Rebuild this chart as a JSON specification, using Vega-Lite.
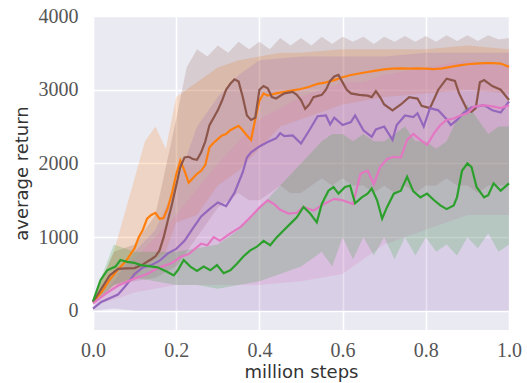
{
  "$schema": "https://vega.github.io/schema/vega-lite/v6.json",
  "autosize": "none",
  "width": 416,
  "height": 314,
  "padding": {"left": 93, "top": 16, "right": 18, "bottom": 53},
  "background": "white",
  "view": {"fill": "#eaeaf2", "stroke": null},
  "config": {
    "axis": {
      "domain": false,
      "ticks": false,
      "grid": true,
      "gridColor": "white",
      "gridWidth": 1.6,
      "labelFont": "Liberation Serif",
      "labelFontSize": 20,
      "labelColor": "#555555",
      "titleFont": "DejaVu Sans",
      "titleFontSize": 18,
      "titleFontWeight": "normal",
      "titleColor": "#333333"
    }
  },
  "datasets": {
    "lines": [
      {"x":0,"s":"orange","v":120},{"x":0.02,"s":"orange","v":250},{"x":0.04,"s":"orange","v":420},{"x":0.06,"s":"orange","v":560},{"x":0.08,"s":"orange","v":680},{"x":0.1,"s":"orange","v":850},{"x":0.11,"s":"orange","v":1000},{"x":0.12,"s":"orange","v":1100},{"x":0.13,"s":"orange","v":1250},{"x":0.14,"s":"orange","v":1300},{"x":0.15,"s":"orange","v":1330},{"x":0.16,"s":"orange","v":1250},{"x":0.17,"s":"orange","v":1260},{"x":0.18,"s":"orange","v":1400},{"x":0.19,"s":"orange","v":1600},{"x":0.2,"s":"orange","v":1850},{"x":0.21,"s":"orange","v":2040},{"x":0.22,"s":"orange","v":1900},{"x":0.23,"s":"orange","v":1740},{"x":0.24,"s":"orange","v":1800},{"x":0.25,"s":"orange","v":1860},{"x":0.26,"s":"orange","v":1900},{"x":0.27,"s":"orange","v":1980},{"x":0.28,"s":"orange","v":2220},{"x":0.29,"s":"orange","v":2280},{"x":0.3,"s":"orange","v":2330},{"x":0.31,"s":"orange","v":2380},{"x":0.32,"s":"orange","v":2400},{"x":0.33,"s":"orange","v":2450},{"x":0.34,"s":"orange","v":2480},{"x":0.35,"s":"orange","v":2510},{"x":0.36,"s":"orange","v":2450},{"x":0.37,"s":"orange","v":2380},{"x":0.38,"s":"orange","v":2320},{"x":0.39,"s":"orange","v":2600},{"x":0.4,"s":"orange","v":2850},{"x":0.41,"s":"orange","v":2950},{"x":0.42,"s":"orange","v":2920},{"x":0.44,"s":"orange","v":2950},{"x":0.46,"s":"orange","v":2970},{"x":0.48,"s":"orange","v":2990},{"x":0.5,"s":"orange","v":3010},{"x":0.52,"s":"orange","v":3040},{"x":0.54,"s":"orange","v":3080},{"x":0.56,"s":"orange","v":3100},{"x":0.58,"s":"orange","v":3130},{"x":0.6,"s":"orange","v":3170},{"x":0.62,"s":"orange","v":3200},{"x":0.64,"s":"orange","v":3220},{"x":0.66,"s":"orange","v":3240},{"x":0.68,"s":"orange","v":3260},{"x":0.7,"s":"orange","v":3275},{"x":0.72,"s":"orange","v":3285},{"x":0.74,"s":"orange","v":3290},{"x":0.76,"s":"orange","v":3285},{"x":0.78,"s":"orange","v":3290},{"x":0.8,"s":"orange","v":3285},{"x":0.82,"s":"orange","v":3280},{"x":0.84,"s":"orange","v":3290},{"x":0.86,"s":"orange","v":3310},{"x":0.88,"s":"orange","v":3330},{"x":0.9,"s":"orange","v":3345},{"x":0.92,"s":"orange","v":3355},{"x":0.94,"s":"orange","v":3360},{"x":0.96,"s":"orange","v":3360},{"x":0.98,"s":"orange","v":3355},{"x":1.0,"s":"orange","v":3310},
      {"x":0,"s":"brown","v":120},{"x":0.02,"s":"brown","v":300},{"x":0.04,"s":"brown","v":480},{"x":0.06,"s":"brown","v":570},{"x":0.08,"s":"brown","v":575},{"x":0.1,"s":"brown","v":580},{"x":0.12,"s":"brown","v":630},{"x":0.14,"s":"brown","v":700},{"x":0.15,"s":"brown","v":740},{"x":0.16,"s":"brown","v":820},{"x":0.17,"s":"brown","v":1000},{"x":0.18,"s":"brown","v":1230},{"x":0.19,"s":"brown","v":1450},{"x":0.2,"s":"brown","v":1700},{"x":0.21,"s":"brown","v":1950},{"x":0.22,"s":"brown","v":2080},{"x":0.23,"s":"brown","v":2090},{"x":0.24,"s":"brown","v":2060},{"x":0.25,"s":"brown","v":2050},{"x":0.26,"s":"brown","v":2150},{"x":0.27,"s":"brown","v":2300},{"x":0.28,"s":"brown","v":2520},{"x":0.29,"s":"brown","v":2620},{"x":0.3,"s":"brown","v":2720},{"x":0.31,"s":"brown","v":2850},{"x":0.32,"s":"brown","v":3000},{"x":0.33,"s":"brown","v":3080},{"x":0.34,"s":"brown","v":3140},{"x":0.35,"s":"brown","v":3110},{"x":0.36,"s":"brown","v":2900},{"x":0.37,"s":"brown","v":2650},{"x":0.38,"s":"brown","v":2590},{"x":0.39,"s":"brown","v":2620},{"x":0.4,"s":"brown","v":3000},{"x":0.41,"s":"brown","v":3050},{"x":0.42,"s":"brown","v":3020},{"x":0.43,"s":"brown","v":2900},{"x":0.44,"s":"brown","v":2880},{"x":0.46,"s":"brown","v":2950},{"x":0.48,"s":"brown","v":2970},{"x":0.49,"s":"brown","v":2930},{"x":0.5,"s":"brown","v":2860},{"x":0.51,"s":"brown","v":2740},{"x":0.52,"s":"brown","v":2800},{"x":0.53,"s":"brown","v":2900},{"x":0.55,"s":"brown","v":2930},{"x":0.56,"s":"brown","v":3000},{"x":0.57,"s":"brown","v":3120},{"x":0.58,"s":"brown","v":3180},{"x":0.59,"s":"brown","v":3200},{"x":0.6,"s":"brown","v":3100},{"x":0.61,"s":"brown","v":3000},{"x":0.62,"s":"brown","v":2950},{"x":0.64,"s":"brown","v":2930},{"x":0.66,"s":"brown","v":2920},{"x":0.67,"s":"brown","v":2900},{"x":0.68,"s":"brown","v":2980},{"x":0.69,"s":"brown","v":2900},{"x":0.7,"s":"brown","v":2800},{"x":0.72,"s":"brown","v":2720},{"x":0.74,"s":"brown","v":2800},{"x":0.76,"s":"brown","v":2900},{"x":0.78,"s":"brown","v":2880},{"x":0.79,"s":"brown","v":2780},{"x":0.81,"s":"brown","v":2750},{"x":0.83,"s":"brown","v":3000},{"x":0.85,"s":"brown","v":3150},{"x":0.87,"s":"brown","v":3120},{"x":0.88,"s":"brown","v":2950},{"x":0.9,"s":"brown","v":2720},{"x":0.91,"s":"brown","v":2700},{"x":0.92,"s":"brown","v":2750},{"x":0.93,"s":"brown","v":3100},{"x":0.94,"s":"brown","v":3130},{"x":0.96,"s":"brown","v":3050},{"x":0.98,"s":"brown","v":3000},{"x":1.0,"s":"brown","v":2860},
      {"x":0,"s":"purple","v":30},{"x":0.02,"s":"purple","v":120},{"x":0.04,"s":"purple","v":170},{"x":0.06,"s":"purple","v":220},{"x":0.08,"s":"purple","v":350},{"x":0.1,"s":"purple","v":500},{"x":0.12,"s":"purple","v":590},{"x":0.14,"s":"purple","v":620},{"x":0.16,"s":"purple","v":680},{"x":0.18,"s":"purple","v":780},{"x":0.2,"s":"purple","v":840},{"x":0.22,"s":"purple","v":950},{"x":0.24,"s":"purple","v":1120},{"x":0.26,"s":"purple","v":1280},{"x":0.28,"s":"purple","v":1380},{"x":0.3,"s":"purple","v":1470},{"x":0.32,"s":"purple","v":1420},{"x":0.34,"s":"purple","v":1600},{"x":0.36,"s":"purple","v":1880},{"x":0.37,"s":"purple","v":2080},{"x":0.38,"s":"purple","v":2150},{"x":0.4,"s":"purple","v":2230},{"x":0.42,"s":"purple","v":2290},{"x":0.44,"s":"purple","v":2340},{"x":0.45,"s":"purple","v":2410},{"x":0.46,"s":"purple","v":2370},{"x":0.48,"s":"purple","v":2380},{"x":0.5,"s":"purple","v":2270},{"x":0.52,"s":"purple","v":2450},{"x":0.54,"s":"purple","v":2640},{"x":0.56,"s":"purple","v":2650},{"x":0.57,"s":"purple","v":2530},{"x":0.58,"s":"purple","v":2620},{"x":0.6,"s":"purple","v":2520},{"x":0.62,"s":"purple","v":2560},{"x":0.63,"s":"purple","v":2650},{"x":0.65,"s":"purple","v":2450},{"x":0.67,"s":"purple","v":2360},{"x":0.68,"s":"purple","v":2460},{"x":0.7,"s":"purple","v":2500},{"x":0.72,"s":"purple","v":2320},{"x":0.73,"s":"purple","v":2520},{"x":0.75,"s":"purple","v":2650},{"x":0.77,"s":"purple","v":2630},{"x":0.78,"s":"purple","v":2680},{"x":0.795,"s":"purple","v":2500},{"x":0.81,"s":"purple","v":2750},{"x":0.83,"s":"purple","v":2720},{"x":0.85,"s":"purple","v":2600},{"x":0.86,"s":"purple","v":2520},{"x":0.875,"s":"purple","v":2590},{"x":0.89,"s":"purple","v":2680},{"x":0.91,"s":"purple","v":2760},{"x":0.94,"s":"purple","v":2790},{"x":0.96,"s":"purple","v":2720},{"x":0.98,"s":"purple","v":2690},{"x":1.0,"s":"purple","v":2840},
      {"x":0,"s":"pink","v":100},{"x":0.03,"s":"pink","v":230},{"x":0.06,"s":"pink","v":340},{"x":0.1,"s":"pink","v":440},{"x":0.13,"s":"pink","v":500},{"x":0.16,"s":"pink","v":590},{"x":0.19,"s":"pink","v":650},{"x":0.21,"s":"pink","v":730},{"x":0.23,"s":"pink","v":770},{"x":0.26,"s":"pink","v":910},{"x":0.275,"s":"pink","v":890},{"x":0.29,"s":"pink","v":1000},{"x":0.305,"s":"pink","v":950},{"x":0.33,"s":"pink","v":1050},{"x":0.355,"s":"pink","v":1140},{"x":0.38,"s":"pink","v":1280},{"x":0.4,"s":"pink","v":1400},{"x":0.42,"s":"pink","v":1500},{"x":0.435,"s":"pink","v":1450},{"x":0.45,"s":"pink","v":1370},{"x":0.47,"s":"pink","v":1320},{"x":0.49,"s":"pink","v":1330},{"x":0.505,"s":"pink","v":1410},{"x":0.53,"s":"pink","v":1360},{"x":0.555,"s":"pink","v":1450},{"x":0.58,"s":"pink","v":1520},{"x":0.6,"s":"pink","v":1500},{"x":0.625,"s":"pink","v":1450},{"x":0.643,"s":"pink","v":1860},{"x":0.66,"s":"pink","v":1900},{"x":0.675,"s":"pink","v":1720},{"x":0.69,"s":"pink","v":1950},{"x":0.707,"s":"pink","v":2060},{"x":0.723,"s":"pink","v":2090},{"x":0.74,"s":"pink","v":2080},{"x":0.755,"s":"pink","v":2320},{"x":0.77,"s":"pink","v":2400},{"x":0.787,"s":"pink","v":2320},{"x":0.803,"s":"pink","v":2250},{"x":0.82,"s":"pink","v":2410},{"x":0.835,"s":"pink","v":2520},{"x":0.85,"s":"pink","v":2590},{"x":0.867,"s":"pink","v":2610},{"x":0.883,"s":"pink","v":2650},{"x":0.9,"s":"pink","v":2680},{"x":0.915,"s":"pink","v":2770},{"x":0.94,"s":"pink","v":2790},{"x":0.963,"s":"pink","v":2770},{"x":0.98,"s":"pink","v":2750},{"x":1.0,"s":"pink","v":2790},
      {"x":0,"s":"green","v":130},{"x":0.018,"s":"green","v":415},{"x":0.034,"s":"green","v":550},{"x":0.054,"s":"green","v":600},{"x":0.066,"s":"green","v":690},{"x":0.082,"s":"green","v":665},{"x":0.1,"s":"green","v":650},{"x":0.115,"s":"green","v":620},{"x":0.13,"s":"green","v":610},{"x":0.155,"s":"green","v":590},{"x":0.178,"s":"green","v":530},{"x":0.194,"s":"green","v":480},{"x":0.205,"s":"green","v":560},{"x":0.218,"s":"green","v":690},{"x":0.234,"s":"green","v":600},{"x":0.25,"s":"green","v":540},{"x":0.266,"s":"green","v":600},{"x":0.282,"s":"green","v":550},{"x":0.298,"s":"green","v":620},{"x":0.314,"s":"green","v":510},{"x":0.33,"s":"green","v":550},{"x":0.346,"s":"green","v":640},{"x":0.362,"s":"green","v":740},{"x":0.378,"s":"green","v":820},{"x":0.394,"s":"green","v":870},{"x":0.41,"s":"green","v":950},{"x":0.426,"s":"green","v":890},{"x":0.442,"s":"green","v":1000},{"x":0.458,"s":"green","v":1090},{"x":0.474,"s":"green","v":1180},{"x":0.49,"s":"green","v":1270},{"x":0.506,"s":"green","v":1410},{"x":0.522,"s":"green","v":1320},{"x":0.538,"s":"green","v":1200},{"x":0.55,"s":"green","v":1450},{"x":0.566,"s":"green","v":1630},{"x":0.578,"s":"green","v":1680},{"x":0.59,"s":"green","v":1590},{"x":0.606,"s":"green","v":1680},{"x":0.618,"s":"green","v":1700},{"x":0.63,"s":"green","v":1460},{"x":0.646,"s":"green","v":1540},{"x":0.66,"s":"green","v":1590},{"x":0.67,"s":"green","v":1660},{"x":0.683,"s":"green","v":1500},{"x":0.695,"s":"green","v":1250},{"x":0.707,"s":"green","v":1410},{"x":0.723,"s":"green","v":1590},{"x":0.74,"s":"green","v":1630},{"x":0.755,"s":"green","v":1820},{"x":0.77,"s":"green","v":1620},{"x":0.787,"s":"green","v":1540},{"x":0.803,"s":"green","v":1590},{"x":0.82,"s":"green","v":1500},{"x":0.835,"s":"green","v":1430},{"x":0.85,"s":"green","v":1380},{"x":0.867,"s":"green","v":1430},{"x":0.875,"s":"green","v":1540},{"x":0.887,"s":"green","v":1900},{"x":0.9,"s":"green","v":2000},{"x":0.91,"s":"green","v":1950},{"x":0.922,"s":"green","v":1680},{"x":0.94,"s":"green","v":1540},{"x":0.95,"s":"green","v":1570},{"x":0.963,"s":"green","v":1730},{"x":0.98,"s":"green","v":1630},{"x":1.0,"s":"green","v":1730}
    ],
    "bands": [
      {"x":0,"s":"orange","lo":100,"hi":140},{"x":0.05,"s":"orange","lo":300,"hi":800},{"x":0.1,"s":"orange","lo":450,"hi":1800},{"x":0.125,"s":"orange","lo":600,"hi":2300},{"x":0.15,"s":"orange","lo":700,"hi":2500},{"x":0.175,"s":"orange","lo":800,"hi":2200},{"x":0.2,"s":"orange","lo":1200,"hi":2900},{"x":0.25,"s":"orange","lo":1300,"hi":3100},{"x":0.3,"s":"orange","lo":1700,"hi":3300},{"x":0.35,"s":"orange","lo":1900,"hi":3400},{"x":0.4,"s":"orange","lo":2200,"hi":3450},{"x":0.45,"s":"orange","lo":2500,"hi":3500},{"x":0.5,"s":"orange","lo":2600,"hi":3500},{"x":0.6,"s":"orange","lo":2800,"hi":3550},{"x":0.7,"s":"orange","lo":2900,"hi":3550},{"x":0.8,"s":"orange","lo":2950,"hi":3550},{"x":0.9,"s":"orange","lo":3000,"hi":3600},{"x":1.0,"s":"orange","lo":2950,"hi":3550},
      {"x":0,"s":"brown","lo":100,"hi":150},{"x":0.05,"s":"brown","lo":350,"hi":800},{"x":0.1,"s":"brown","lo":400,"hi":900},{"x":0.15,"s":"brown","lo":450,"hi":1300},{"x":0.2,"s":"brown","lo":600,"hi":2600},{"x":0.225,"s":"brown","lo":800,"hi":3300},{"x":0.25,"s":"brown","lo":1000,"hi":3550},{"x":0.275,"s":"brown","lo":1200,"hi":3450},{"x":0.3,"s":"brown","lo":1400,"hi":3600},{"x":0.325,"s":"brown","lo":1500,"hi":3500},{"x":0.35,"s":"brown","lo":1600,"hi":3650},{"x":0.375,"s":"brown","lo":1500,"hi":3550},{"x":0.4,"s":"brown","lo":1500,"hi":3650},{"x":0.425,"s":"brown","lo":1600,"hi":3550},{"x":0.45,"s":"brown","lo":1700,"hi":3700},{"x":0.475,"s":"brown","lo":1600,"hi":3600},{"x":0.5,"s":"brown","lo":1600,"hi":3700},{"x":0.525,"s":"brown","lo":1700,"hi":3600},{"x":0.55,"s":"brown","lo":1800,"hi":3720},{"x":0.575,"s":"brown","lo":1700,"hi":3620},{"x":0.6,"s":"brown","lo":1800,"hi":3720},{"x":0.625,"s":"brown","lo":1700,"hi":3650},{"x":0.65,"s":"brown","lo":1700,"hi":3720},{"x":0.675,"s":"brown","lo":1600,"hi":3620},{"x":0.7,"s":"brown","lo":1700,"hi":3720},{"x":0.725,"s":"brown","lo":1600,"hi":3650},{"x":0.75,"s":"brown","lo":1700,"hi":3730},{"x":0.775,"s":"brown","lo":1600,"hi":3650},{"x":0.8,"s":"brown","lo":1700,"hi":3730},{"x":0.825,"s":"brown","lo":1700,"hi":3650},{"x":0.85,"s":"brown","lo":1800,"hi":3740},{"x":0.875,"s":"brown","lo":1700,"hi":3660},{"x":0.9,"s":"brown","lo":1700,"hi":3740},{"x":0.925,"s":"brown","lo":1600,"hi":3660},{"x":0.95,"s":"brown","lo":1700,"hi":3740},{"x":0.975,"s":"brown","lo":1700,"hi":3680},{"x":1.0,"s":"brown","lo":1700,"hi":3700},
      {"x":0,"s":"purple","lo":0,"hi":60},{"x":0.05,"s":"purple","lo":30,"hi":400},{"x":0.1,"s":"purple","lo":0,"hi":800},{"x":0.15,"s":"purple","lo":0,"hi":1100},{"x":0.2,"s":"purple","lo":0,"hi":1700},{"x":0.25,"s":"purple","lo":0,"hi":2500},{"x":0.3,"s":"purple","lo":0,"hi":2900},{"x":0.35,"s":"purple","lo":0,"hi":3200},{"x":0.4,"s":"purple","lo":0,"hi":3400},{"x":0.5,"s":"purple","lo":0,"hi":3450},{"x":0.6,"s":"purple","lo":0,"hi":3450},{"x":0.7,"s":"purple","lo":0,"hi":3450},{"x":0.8,"s":"purple","lo":0,"hi":3500},{"x":0.9,"s":"purple","lo":0,"hi":3500},{"x":1.0,"s":"purple","lo":0,"hi":3500},
      {"x":0,"s":"pink","lo":80,"hi":120},{"x":0.05,"s":"pink","lo":150,"hi":550},{"x":0.1,"s":"pink","lo":250,"hi":700},{"x":0.2,"s":"pink","lo":350,"hi":1300},{"x":0.3,"s":"pink","lo":350,"hi":2000},{"x":0.4,"s":"pink","lo":350,"hi":2600},{"x":0.5,"s":"pink","lo":400,"hi":2900},{"x":0.6,"s":"pink","lo":500,"hi":3100},{"x":0.65,"s":"pink","lo":700,"hi":3100},{"x":0.7,"s":"pink","lo":900,"hi":3200},{"x":0.8,"s":"pink","lo":1100,"hi":3300},{"x":0.9,"s":"pink","lo":1300,"hi":3400},{"x":1.0,"s":"pink","lo":1300,"hi":3300},
      {"x":0,"s":"green","lo":100,"hi":160},{"x":0.05,"s":"green","lo":350,"hi":900},{"x":0.1,"s":"green","lo":450,"hi":800},{"x":0.15,"s":"green","lo":400,"hi":800},{"x":0.2,"s":"green","lo":350,"hi":800},{"x":0.25,"s":"green","lo":350,"hi":850},{"x":0.3,"s":"green","lo":300,"hi":900},{"x":0.35,"s":"green","lo":350,"hi":1100},{"x":0.4,"s":"green","lo":400,"hi":1400},{"x":0.45,"s":"green","lo":500,"hi":1700},{"x":0.5,"s":"green","lo":600,"hi":2000},{"x":0.55,"s":"green","lo":800,"hi":2300},{"x":0.575,"s":"green","lo":600,"hi":2400},{"x":0.6,"s":"green","lo":1000,"hi":2400},{"x":0.625,"s":"green","lo":700,"hi":2300},{"x":0.65,"s":"green","lo":1000,"hi":2400},{"x":0.675,"s":"green","lo":750,"hi":2300},{"x":0.7,"s":"green","lo":1000,"hi":2300},{"x":0.725,"s":"green","lo":700,"hi":2400},{"x":0.75,"s":"green","lo":1000,"hi":2500},{"x":0.775,"s":"green","lo":750,"hi":2300},{"x":0.8,"s":"green","lo":1000,"hi":2300},{"x":0.825,"s":"green","lo":800,"hi":2200},{"x":0.85,"s":"green","lo":900,"hi":2300},{"x":0.875,"s":"green","lo":750,"hi":2600},{"x":0.9,"s":"green","lo":1000,"hi":2800},{"x":0.925,"s":"green","lo":850,"hi":2600},{"x":0.95,"s":"green","lo":1050,"hi":2400},{"x":0.975,"s":"green","lo":800,"hi":2500},{"x":1.0,"s":"green","lo":900,"hi":2500}
    ]
  },
  "layer": [
    {
      "data": {"name": "bands"},
      "mark": {"type": "area", "interpolate": "linear"},
      "encoding": {
        "x": {"field": "x", "type": "quantitative", "scale": {"domain": [0, 1], "nice": false, "zero": false},
          "axis": {"values": [0, 0.2, 0.4, 0.6, 0.8, 1.0], "format": ".1f", "labelPadding": 10, "labelFlush": false,
            "title": "million steps", "titleBaseline": "alphabetic", "titleY": 47}},
        "y": {"field": "lo", "type": "quantitative", "scale": {"domain": [-260, 4000], "nice": false, "zero": false},
          "axis": {"values": [0, 1000, 2000, 3000, 4000], "format": "d", "labelPadding": 15,
            "title": "average return", "titleBaseline": "alphabetic", "titleX": -66, "titleY": 157}},
        "y2": {"field": "hi"},
        "color": {"field": "s", "type": "nominal", "legend": null,
          "scale": {"domain": ["orange", "brown", "purple", "pink", "green"], "range": ["#ff7f0e", "#8c564b", "#9467bd", "#e377c2", "#2ca02c"]}},
        "opacity": {"field": "s", "type": "nominal", "legend": null,
          "scale": {"domain": ["orange", "brown", "purple", "pink", "green"], "range": [0.2, 0.2, 0.2, 0.2, 0.14]}}
      }
    },
    {
      "data": {"name": "lines"},
      "mark": {"type": "line", "strokeWidth": 2.2, "interpolate": "linear"},
      "encoding": {
        "x": {"field": "x", "type": "quantitative"},
        "y": {"field": "v", "type": "quantitative"},
        "color": {"field": "s", "type": "nominal", "legend": null}
      }
    }
  ]
}
